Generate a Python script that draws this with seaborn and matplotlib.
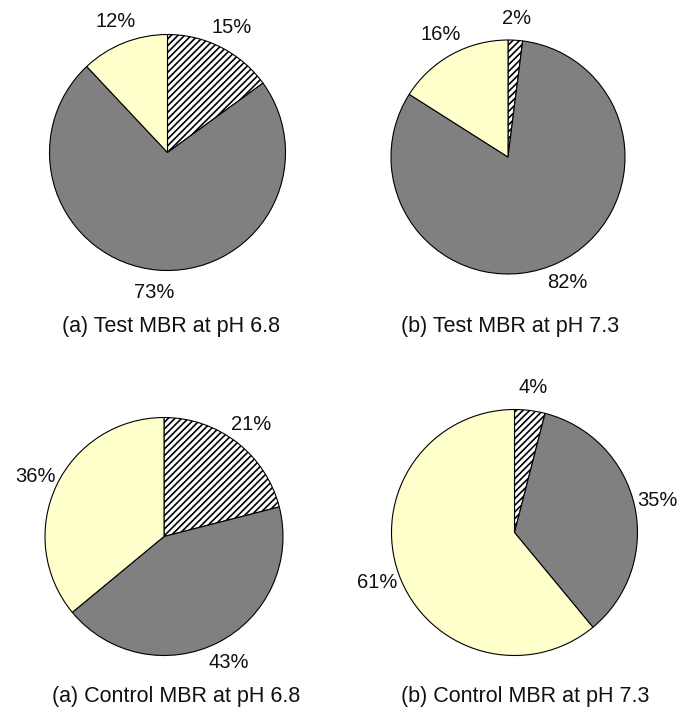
import matplotlib
matplotlib.use("Agg")
import matplotlib.pyplot as plt
import seaborn as sns

# Fractions (%) of each reactor sample, clockwise from 12 o'clock:
# hatched fraction, grey fraction, pale-yellow fraction
fractions = ["hatched", "grey", "yellow"]
test_ph68 = [15, 73, 12]
test_ph73 = [2, 82, 16]
control_ph68 = [21, 43, 36]
control_ph73 = [4, 35, 61]
panel_titles = [
    "(a) Test MBR at pH 6.8",
    "(b) Test MBR at pH 7.3",
    "(a) Control MBR at pH 6.8",
    "(b) Control MBR at pH 7.3",
]
panel_values = [test_ph68, test_ph73, control_ph68, control_ph73]

sns.set_theme(style="white")
plt.rcParams["font.family"] = ["Liberation Sans", "DejaVu Sans"]
plt.rcParams["hatch.linewidth"] = 1.2

W, H, DPI = 681, 708, 100
fig = plt.figure(figsize=(W / DPI, H / DPI), dpi=DPI)
fig.patch.set_facecolor("white")

slice_colors = ["white", "#808080", "#FFFFCC"]
slice_hatches = ["/////", None, None]

# pie centre (px), radius (px)
layout = [
    (167.5, 152.5, 118),
    (508.0, 157.0, 117),
    (164.0, 536.5, 119),
    (514.5, 532.5, 123),
]
# title centre x (px), baseline y (px)
title_pos = [(171, 332), (510, 332), (176, 702), (525, 702)]

S = 330  # axes side in px
for vals, (cx, cy, r), title, (tx, ty) in zip(panel_values, layout, panel_titles, title_pos):
    ax = fig.add_axes([(cx - S / 2) / W, 1 - (cy + S / 2) / H, S / W, S / H])
    wedges, texts, autotexts = ax.pie(
        vals,
        colors=slice_colors,
        startangle=90,
        counterclock=False,
        radius=1.0,
        autopct=lambda p: f"{p:.0f}%",
        pctdistance=1.19,
        wedgeprops=dict(edgecolor="black", linewidth=0.8),
        textprops=dict(fontsize=14.5, color="#111111"),
    )
    for w, h in zip(wedges, slice_hatches):
        if h:
            w.set_hatch(h)
    lim = S / 2 / r
    ax.set_xlim(-lim, lim)
    ax.set_ylim(-lim, lim)
    ax.set_aspect("equal")
    ax.set_axis_off()
    fig.text(tx / W, 1 - ty / H, title, ha="center", va="baseline",
             fontsize=15.5, color="#111111")

fig.savefig("out.png", dpi=DPI, facecolor="white")
